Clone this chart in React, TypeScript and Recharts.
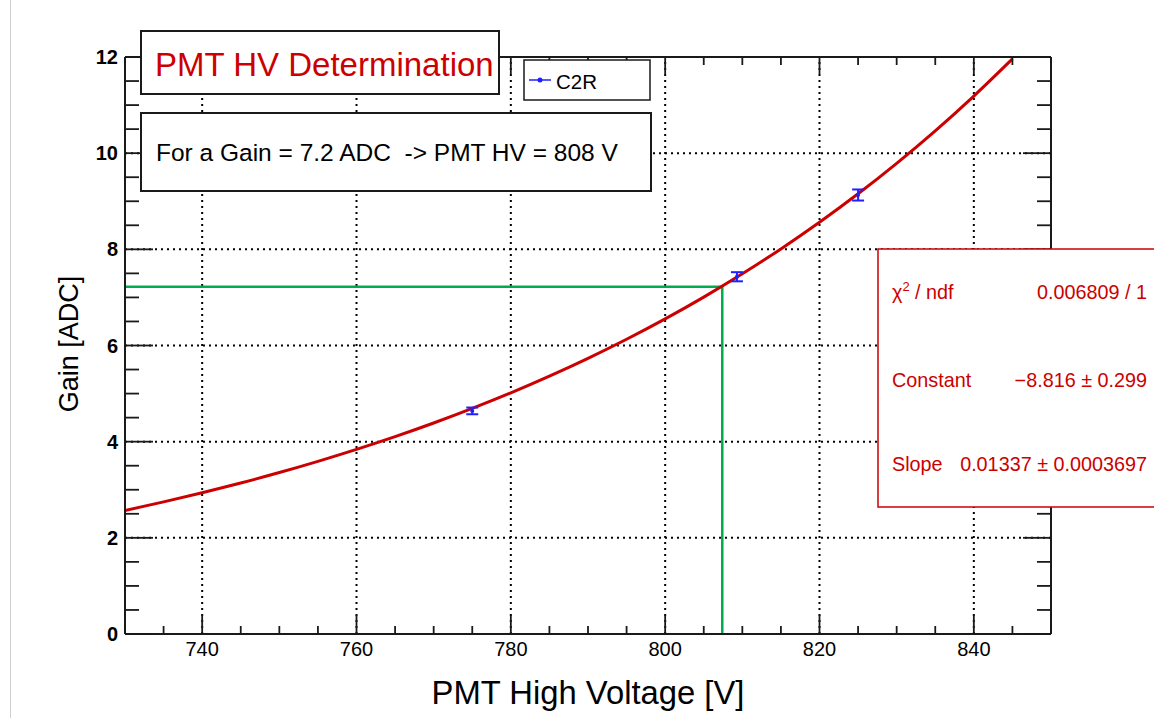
import {
  ComposedChart,
  ErrorBar,
  Line,
  ReferenceLine,
  Scatter,
  XAxis,
  YAxis,
} from 'recharts'

// fitted exponential
const fitVoltage = [730, 735, 740, 745, 750, 755, 760, 765, 770, 775, 780, 785, 790, 795, 800, 805, 810, 815, 820, 825, 830, 835, 840, 845]
const fitGain = [2.57, 2.748, 2.938, 3.141, 3.358, 3.591, 3.839, 4.104, 4.388, 4.692, 5.016, 5.363, 5.733, 6.13, 6.554, 7.007, 7.491, 8.009, 8.563, 9.155, 9.788, 10.464, 11.188, 11.96]

// measured points (C2R)
const measVoltage = [775, 809.3, 825]
const measGain = [4.64, 7.43, 9.13]
const measError = [0.07, 0.095, 0.115]

// green projection for gain 7.2
const projVoltage = [730, 807.4, 807.4]
const projGain = [7.22, 7.22, 0]

const xTicks = [730, 735, 740, 745, 750, 755, 760, 765, 770, 775, 780, 785, 790, 795, 800, 805, 810, 815, 820, 825, 830, 835, 840, 845, 850]
const xLabels = [740, 760, 780, 800, 820, 840]
const yTicks = [0, 0.5, 1, 1.5, 2, 2.5, 3, 3.5, 4, 4.5, 5, 5.5, 6, 6.5, 7, 7.5, 8, 8.5, 9, 9.5, 10, 10.5, 11, 11.5, 12]
const yLabels = [0, 2, 4, 6, 8, 10, 12]

const fitData = fitVoltage.map((hv, i) => ({ hv, gain: fitGain[i] }))
const measData = measVoltage.map((hv, i) => ({ hv, gain: measGain[i], err: measError[i] }))
const projData = projVoltage.map((hv, i) => ({ hv, gain: projGain[i] }))

const FONT = '"Liberation Sans", Arial, Helvetica, sans-serif'
const RED = '#cc0000'
const BLUE = '#2020ff'
const GREEN = '#00ad4c'
const AXIS = '#1a1a1a'

function BottomTick({ x, y, payload }: any) {
  const major = xLabels.includes(payload.value)
  return (
    <g>
      <line x1={x} x2={x} y1={y} y2={y - (major ? 19 : 8)} stroke={AXIS} strokeWidth={1.8} />
      {major && (
        <text x={x} y={y + 22} textAnchor="middle" fill="#000" style={{ fontSize: 20, fontFamily: FONT }}>
          {payload.value}
        </text>
      )}
    </g>
  )
}

function TopTick({ x, y, payload }: any) {
  const major = xLabels.includes(payload.value)
  return <line x1={x} x2={x} y1={y} y2={y + (major ? 17 : 8)} stroke={AXIS} strokeWidth={1.8} />
}

function LeftTick({ x, y, payload }: any) {
  const major = yLabels.includes(payload.value)
  return (
    <g>
      <line x1={x} x2={x + (major ? 28 : 14)} y1={y} y2={y} stroke={AXIS} strokeWidth={1.8} />
      {major && (
        <text x={x - 7} y={y + 7} textAnchor="end" fill="#000" style={{ fontSize: 20, fontWeight: 'bold', fontFamily: FONT }}>
          {payload.value}
        </text>
      )}
    </g>
  )
}

function RightTick({ x, y, payload }: any) {
  const major = yLabels.includes(payload.value)
  return <line x1={x} x2={x - (major ? 28 : 14)} y1={y} y2={y} stroke={AXIS} strokeWidth={1.8} />
}

function Dot({ cx, cy }: any) {
  return <circle cx={cx} cy={cy} r={2} fill={BLUE} />
}

export default function App() {
  return (
    <div style={{ position: 'absolute', left: 0, top: 0, width: 1154, height: 718, background: '#fff', fontFamily: FONT }}>
      <div style={{ position: 'absolute', left: 10, top: 0, width: 1, height: 718, background: '#d0d0d0' }} />
      <ComposedChart
        width={1154}
        height={718}
        margin={{ top: 37, right: 63, bottom: 54, left: 65 }}
      >
        <XAxis
          dataKey="hv"
          type="number"
          domain={[730, 850]}
          allowDataOverflow
          ticks={xTicks}
          interval={0}
          height={30}
          tickSize={0}
          tickMargin={0}
          tickLine={false}
          axisLine={{ stroke: AXIS, strokeWidth: 2 }}
          tick={<BottomTick />}
        />
        <XAxis
          xAxisId="top"
          orientation="top"
          dataKey="hv"
          type="number"
          domain={[730, 850]}
          allowDataOverflow
          ticks={xTicks}
          interval={0}
          height={20}
          tickSize={0}
          tickMargin={0}
          tickLine={false}
          axisLine={{ stroke: AXIS, strokeWidth: 2 }}
          tick={<TopTick />}
        />
        <YAxis
          dataKey="gain"
          type="number"
          domain={[0, 12]}
          allowDataOverflow
          ticks={yTicks}
          interval={0}
          width={60}
          tickSize={0}
          tickMargin={0}
          tickLine={false}
          axisLine={{ stroke: AXIS, strokeWidth: 2 }}
          tick={<LeftTick />}
        />
        <YAxis
          yAxisId="right"
          orientation="right"
          dataKey="gain"
          type="number"
          domain={[0, 12]}
          allowDataOverflow
          ticks={yTicks}
          interval={0}
          width={40}
          tickSize={0}
          tickMargin={0}
          tickLine={false}
          axisLine={{ stroke: AXIS, strokeWidth: 2 }}
          tick={<RightTick />}
        />
        {xLabels.map((v) => (
          <ReferenceLine key={'gx' + v} x={v} stroke="#000" strokeWidth={2} strokeDasharray="2 4" />
        ))}
        {yLabels.map((v) => (
          <ReferenceLine key={'gy' + v} y={v} stroke="#000" strokeWidth={2} strokeDasharray="2 4" />
        ))}
        <Line
          data={projData}
          dataKey="gain"
          type="linear"
          stroke={GREEN}
          strokeWidth={2.5}
          dot={false}
          isAnimationActive={false}
        />
        <Line
          data={fitData}
          dataKey="gain"
          type="monotone"
          stroke={RED}
          strokeWidth={3}
          dot={false}
          isAnimationActive={false}
        />
        <Scatter data={measData} fill={BLUE} shape={<Dot />} isAnimationActive={false}>
          <ErrorBar dataKey="err" direction="y" width={6} stroke={BLUE} strokeWidth={2} />
        </Scatter>
      </ComposedChart>

      <svg
        width={1154}
        height={718}
        style={{ position: 'absolute', left: 0, top: 0, pointerEvents: 'none' }}
        fontFamily={FONT}
      >
        {/* title */}
        <rect x={141} y={31} width={358} height={63} fill="#fff" stroke={AXIS} strokeWidth={2} />
        <text x={155} y={76} fontSize={33} fill={RED}>PMT HV Determination</text>

        {/* legend */}
        <rect x={524} y={60} width={126} height={40} fill="#fff" stroke={AXIS} strokeWidth={1.5} />
        <line x1={529} x2={551} y1={80} y2={80} stroke={BLUE} strokeWidth={1.5} />
        <circle cx={540} cy={80} r={2.5} fill={BLUE} />
        <text x={556} y={89} fontSize={20.5} fill="#000">C2R</text>

        {/* result box */}
        <rect x={141} y={113} width={510} height={78} fill="#fff" stroke={AXIS} strokeWidth={2} />
        <text x={156} y={161} fontSize={24.5} fill="#000" xmlSpace="preserve" style={{ whiteSpace: 'pre' }}>
          For a Gain = 7.2 ADC  -&gt; PMT HV = 808 V
        </text>

        {/* fit statistics */}
        <rect x={878} y={249} width={300} height={258} fill="#fff" stroke={RED} strokeWidth={1.5} />
        <text x={892} y={299} fontSize={19.8} fill={RED}>
          χ<tspan fontSize={13} dy={-8}>2</tspan>
          <tspan dy={8}> / ndf</tspan>
        </text>
        <text x={1147} y={299} fontSize={19.8} fill={RED} textAnchor="end">0.006809 / 1</text>
        <text x={892} y={387} fontSize={19.8} fill={RED}>Constant</text>
        <text x={1147} y={387} fontSize={19.8} fill={RED} textAnchor="end">−8.816 ± 0.299</text>
        <text x={892} y={471} fontSize={19.8} fill={RED}>Slope</text>
        <text x={1147} y={471} fontSize={19.8} fill={RED} textAnchor="end">0.01337 ± 0.0003697</text>

        {/* axis titles */}
        <text x={588} y={704} fontSize={32.8} textAnchor="middle" fill="#000">PMT High Voltage [V]</text>
        <text transform="translate(78,344) rotate(-90)" fontSize={27} textAnchor="middle" fill="#000">Gain [ADC]</text>
      </svg>
    </div>
  )
}
